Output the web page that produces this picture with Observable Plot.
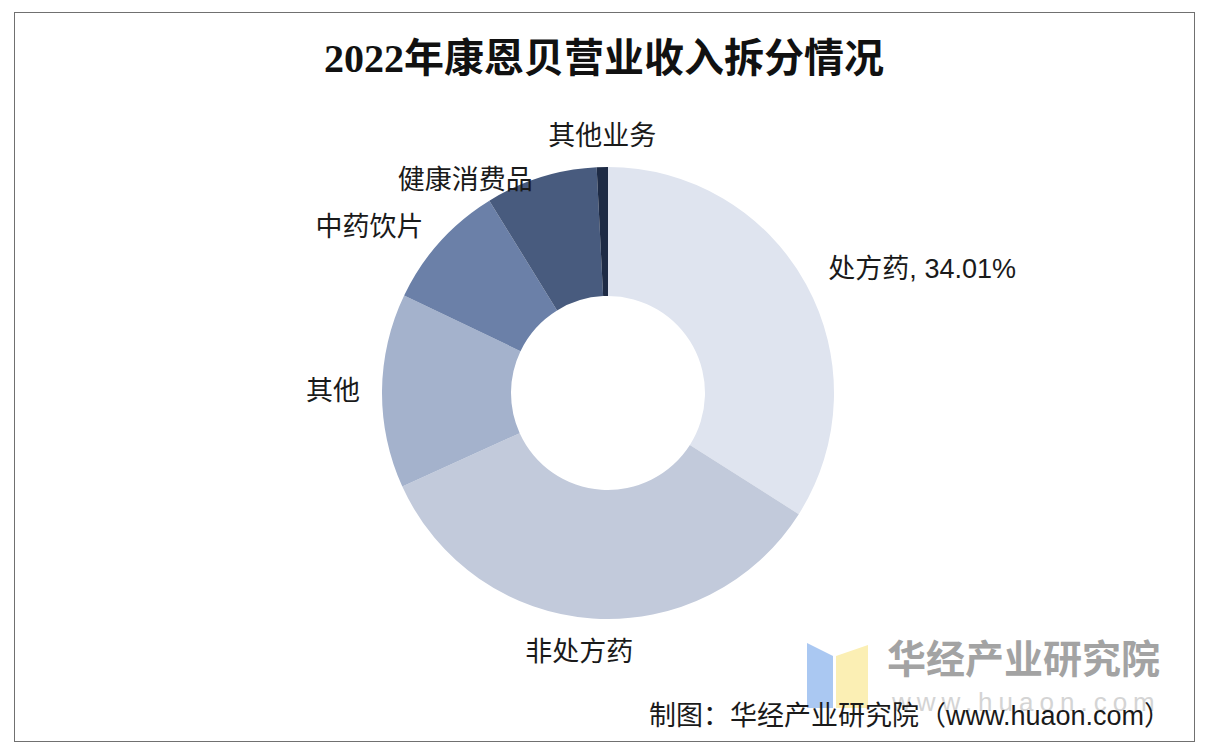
<!DOCTYPE html>
<html><head><meta charset="utf-8">
<script src="https://cdn.jsdelivr.net/npm/d3@7"></script>
<script src="https://cdn.jsdelivr.net/npm/@observablehq/plot@0.6"></script>
<style>
body{margin:0;background:#fff;}
#wrap{position:relative;width:1208px;height:752px;overflow:hidden;background:#fff;font-family:"Noto Sans CJK SC",sans-serif;}
#frame{position:absolute;left:14px;top:12px;width:1181px;height:730px;border:1.5px solid #707070;box-sizing:border-box;}
#title{position:absolute;left:0;width:1208px;top:34px;text-align:center;font-family:"Liberation Serif","Noto Sans CJK SC",serif;font-weight:bold;font-size:40px;color:#111;line-height:50px;}
#chart{position:absolute;left:0;top:0;}
#wm{position:absolute;left:0;top:0;}
#caption{position:absolute;right:37px;top:698px;font-family:"Liberation Sans","Noto Sans CJK SC",sans-serif;font-size:27px;color:#1a1a1a;line-height:36px;white-space:nowrap;}
</style></head>
<body>
<div id="wrap">
  <div id="frame"></div>
  <svg id="wm" width="1208" height="752">
    <polygon points="807,643 833,656 833,708 807,708" fill="#aac8f2"/>
    <polygon points="836,656 868,645 868,708 836,708" fill="#fbefb4"/>
    <text x="887" y="673" font-family="Noto Sans CJK SC" font-weight="bold" font-size="39" fill="#a3a3a3">华经产业研究院</text>
    <text x="892" y="711" font-family="Liberation Sans" font-size="26" fill="#d4d4d4" letter-spacing="6">www.huaon.com</text>
  </svg>
  <div id="chart"></div>
  <div id="title">2022年康恩贝营业收入拆分情况</div>
  <div id="caption">制图：华经产业研究院（www.huaon.com）</div>
</div>
<script>
const categories = ["处方药","非处方药","其他","中药饮片","健康消费品","其他业务"];
const shares = [34.01, 34.2, 13.9, 9.1, 8.0, 0.8];
const labelText = ["处方药, 34.01%","非处方药","其他","中药饮片","健康消费品","其他业务"];
const colors = ["#dfe4ef","#c2cadb","#a4b2cc","#6b80a8","#485b7e","#1e2b45"];

const data = categories.map((c, i) => ({name: c, value: shares[i], label: labelText[i]}));
const pie = d3.pie().sort(null).value(d => d.value)(data);
const colorScale = Plot.scale({color: {type: "ordinal", domain: categories, range: colors}});
const innerRatio = 97 / 226;
const labelR = 1.1;
const nudge = {"健康消费品": [-2, 24], "非处方药": [-12, 0], "处方药": [2, -4]};

const labels = pie.map(p => {
  const a = (p.startAngle + p.endAngle) / 2;
  const s = Math.sin(a), c = Math.cos(a);
  const mid = Math.abs(s) < 0.15;
  const n = nudge[p.data.name] || [0, 0];
  return {
    x: labelR * s, y: labelR * c, text: p.data.label,
    anchor: mid ? "middle" : (s > 0 ? "start" : "end"),
    line: mid ? (c > 0 ? "bottom" : "top") : "middle",
    dx: n[0], dy: n[1]
  };
});

const donut = (index, scales) => {
  const cx = scales.x(0), cy = scales.y(0), R = Math.abs(scales.x(1) - scales.x(0));
  const arc = d3.arc().innerRadius(R * innerRatio).outerRadius(R);
  const g = d3.create("svg:g").attr("transform", `translate(${cx},${cy})`);
  g.selectAll("path").data(pie).join("path")
    .attr("d", arc)
    .attr("fill", d => colorScale.apply(d.data.name));
  return g.node();
};

const textMarks = labels.map(l => Plot.text([l], {
  x: "x", y: "y", text: "text", textAnchor: l.anchor, lineAnchor: l.line,
  dx: l.dx, dy: l.dy, fontSize: 27, fill: "#1a1a1a",
  fontFamily: "Liberation Sans, Noto Sans CJK SC, sans-serif"
}));

const chart = Plot.plot({
  width: 1208, height: 752, margin: 0,
  x: {domain: [-1, 1], range: [382, 834], axis: null},
  y: {domain: [-1, 1], range: [619, 167], axis: null},
  style: {background: "transparent", overflow: "visible"},
  marks: [donut, ...textMarks]
});
document.getElementById("chart").appendChild(chart);
</script>
</body></html>
